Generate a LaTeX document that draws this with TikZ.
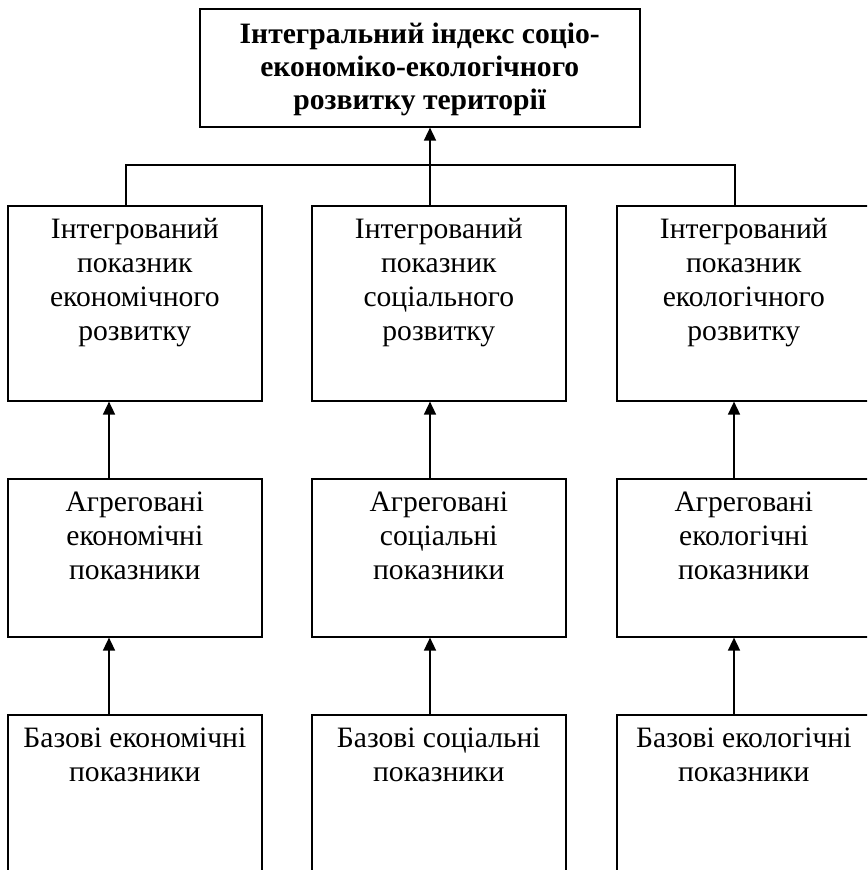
\documentclass[tikz,border=0pt]{standalone}
\usepackage{fontspec}
\setmainfont{Liberation Serif}
\usetikzlibrary{arrows.meta}
\tikzset{
    box/.style={draw, line width=0.8pt, anchor=north west, inner sep=0pt},
    txt/.style={anchor=north, align=center, inner sep=0pt, yshift=-6.5pt, font=\fontsize{14.8}{17}\selectfont},
    arr/.style={line width=0.8pt, -{Triangle[length=6.5pt,width=6pt]}},
}
\begin{document}
\begin{tikzpicture}[x=0.5pt, y=-0.5pt]
    \clip (0,0) rectangle (867,870);
    \node[box, minimum width=220pt, minimum height=59pt, label={[txt, yshift=-1pt, font=\bfseries\fontsize{14.8}{16.5}\selectfont]north:{Інтегральний індекс соціо-\\економіко-екологічного\\розвитку території}}] (integral) at (199,8) {};
    \node[box, minimum width=127pt, minimum height=97.5pt, label={[txt]north:{Інтегрований\\показник\\економічного\\розвитку}}] (econI) at (7,205) {};
    \node[box, minimum width=127pt, minimum height=97.5pt, label={[txt]north:{Інтегрований\\показник\\соціального\\розвитку}}] (socI) at (311,205) {};
    \node[box, minimum width=127pt, minimum height=97.5pt, label={[txt]north:{Інтегрований\\показник\\екологічного\\розвитку}}] (ecolI) at (616,205) {};
    \node[box, minimum width=127pt, minimum height=79pt, label={[txt]north:{Агреговані\\економічні\\показники}}] (econA) at (7,478) {};
    \node[box, minimum width=127pt, minimum height=79pt, label={[txt]north:{Агреговані\\соціальні\\показники}}] (socA) at (311,478) {};
    \node[box, minimum width=127pt, minimum height=79pt, label={[txt]north:{Агреговані\\екологічні\\показники}}] (ecolA) at (616,478) {};
    \node[box, minimum width=127pt, minimum height=100pt, label={[txt]north:{Базові економічні\\показники}}] (econB) at (7,714) {};
    \node[box, minimum width=127pt, minimum height=100pt, label={[txt]north:{Базові соціальні\\показники}}] (socB) at (311,714) {};
    \node[box, minimum width=127pt, minimum height=100pt, label={[txt]north:{Базові екологічні\\показники}}] (ecolB) at (616,714) {};
    \coordinate (l) at (109,0);
    \coordinate (m) at (430,0);
    \coordinate (r) at (734,0);
    \coordinate (busl) at (126,165);
    \coordinate (busr) at (735,165);
    \draw[line width=0.8pt] (econI.north -| busl) -- (busl) -- (busr) -- (ecolI.north -| busr);
    \draw[arr] (socI.north -| m) -- (integral.south -| m);
    \draw[arr] (econA.north -| l) -- (econI.south -| l);
    \draw[arr] (socA.north -| m) -- (socI.south -| m);
    \draw[arr] (ecolA.north -| r) -- (ecolI.south -| r);
    \draw[arr] (econB.north -| l) -- (econA.south -| l);
    \draw[arr] (socB.north -| m) -- (socA.south -| m);
    \draw[arr] (ecolB.north -| r) -- (ecolA.south -| r);
\end{tikzpicture}
\end{document}
